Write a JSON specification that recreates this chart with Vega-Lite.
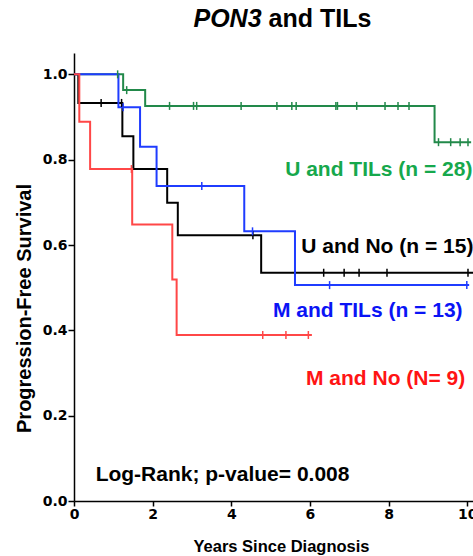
{
  "$schema": "https://vega.github.io/schema/vega-lite/v6.json",
  "width": 405,
  "height": 448,
  "autosize": {"type": "none"},
  "padding": {"left": 74, "top": 53, "right": 0, "bottom": 55},
  "background": "white",
  "config": {"view": {"stroke": null}, "font": "Liberation Sans"},
  "datasets": {
    "km": [
      {"g": "U and TILs", "t": 0, "s": 1, "c": 0},
      {"g": "U and TILs", "t": 1.11, "s": 1, "c": 1},
      {"g": "U and TILs", "t": 1.25, "s": 0.963, "c": 0},
      {"g": "U and TILs", "t": 1.34, "s": 0.963, "c": 1},
      {"g": "U and TILs", "t": 1.81, "s": 0.926, "c": 0},
      {"g": "U and TILs", "t": 2.43, "s": 0.926, "c": 1},
      {"g": "U and TILs", "t": 3.04, "s": 0.926, "c": 1},
      {"g": "U and TILs", "t": 3.12, "s": 0.926, "c": 1},
      {"g": "U and TILs", "t": 4.25, "s": 0.926, "c": 1},
      {"g": "U and TILs", "t": 5.16, "s": 0.926, "c": 1},
      {"g": "U and TILs", "t": 5.54, "s": 0.926, "c": 1},
      {"g": "U and TILs", "t": 5.65, "s": 0.926, "c": 1},
      {"g": "U and TILs", "t": 6.66, "s": 0.926, "c": 1},
      {"g": "U and TILs", "t": 6.7, "s": 0.926, "c": 1},
      {"g": "U and TILs", "t": 7.19, "s": 0.926, "c": 1},
      {"g": "U and TILs", "t": 7.91, "s": 0.926, "c": 1},
      {"g": "U and TILs", "t": 8.24, "s": 0.926, "c": 1},
      {"g": "U and TILs", "t": 8.52, "s": 0.926, "c": 1},
      {"g": "U and TILs", "t": 9.17, "s": 0.841, "c": 0},
      {"g": "U and TILs", "t": 9.27, "s": 0.841, "c": 1},
      {"g": "U and TILs", "t": 9.58, "s": 0.841, "c": 1},
      {"g": "U and TILs", "t": 9.82, "s": 0.841, "c": 1},
      {"g": "U and TILs", "t": 10.02, "s": 0.841, "c": 1},
      {"g": "U and TILs", "t": 10.1, "s": 0.841, "c": 0},
      {"g": "U and No", "t": 0, "s": 1, "c": 0},
      {"g": "U and No", "t": 0.11, "s": 0.933, "c": 0},
      {"g": "U and No", "t": 0.69, "s": 0.933, "c": 1},
      {"g": "U and No", "t": 1.21, "s": 0.933, "c": 1},
      {"g": "U and No", "t": 1.23, "s": 0.855, "c": 0},
      {"g": "U and No", "t": 1.51, "s": 0.778, "c": 0},
      {"g": "U and No", "t": 2.37, "s": 0.699, "c": 0},
      {"g": "U and No", "t": 2.64, "s": 0.623, "c": 0},
      {"g": "U and No", "t": 4.55, "s": 0.623, "c": 1},
      {"g": "U and No", "t": 4.76, "s": 0.535, "c": 0},
      {"g": "U and No", "t": 6.35, "s": 0.535, "c": 1},
      {"g": "U and No", "t": 6.87, "s": 0.535, "c": 1},
      {"g": "U and No", "t": 7.25, "s": 0.535, "c": 1},
      {"g": "U and No", "t": 7.96, "s": 0.535, "c": 1},
      {"g": "U and No", "t": 10.02, "s": 0.535, "c": 1},
      {"g": "U and No", "t": 10.25, "s": 0.535, "c": 0},
      {"g": "M and TILs", "t": 0, "s": 1, "c": 0},
      {"g": "M and TILs", "t": 1.13, "s": 0.923, "c": 0},
      {"g": "M and TILs", "t": 1.25, "s": 0.923, "c": 1},
      {"g": "M and TILs", "t": 1.68, "s": 0.83, "c": 0},
      {"g": "M and TILs", "t": 2.1, "s": 0.738, "c": 0},
      {"g": "M and TILs", "t": 3.25, "s": 0.738, "c": 1},
      {"g": "M and TILs", "t": 4.33, "s": 0.632, "c": 0},
      {"g": "M and TILs", "t": 4.54, "s": 0.632, "c": 1},
      {"g": "M and TILs", "t": 5.62, "s": 0.506, "c": 0},
      {"g": "M and TILs", "t": 6.5, "s": 0.506, "c": 1},
      {"g": "M and TILs", "t": 9.99, "s": 0.506, "c": 1},
      {"g": "M and TILs", "t": 10.05, "s": 0.506, "c": 0},
      {"g": "M and No", "t": 0, "s": 1, "c": 0},
      {"g": "M and No", "t": 0.135, "s": 0.889, "c": 0},
      {"g": "M and No", "t": 0.41, "s": 0.778, "c": 0},
      {"g": "M and No", "t": 1.46, "s": 0.778, "c": 1},
      {"g": "M and No", "t": 1.48, "s": 0.648, "c": 0},
      {"g": "M and No", "t": 2.5, "s": 0.519, "c": 0},
      {"g": "M and No", "t": 2.61, "s": 0.389, "c": 0},
      {"g": "M and No", "t": 4.8, "s": 0.389, "c": 1},
      {"g": "M and No", "t": 5.39, "s": 0.389, "c": 1},
      {"g": "M and No", "t": 5.96, "s": 0.389, "c": 1},
      {"g": "M and No", "t": 6.05, "s": 0.389, "c": 0}
    ],
    "labels": [
      {"g": "U and TILs", "lab": "U and TILs (n = 28)", "x": 5.37, "y": 0.761},
      {"g": "U and No", "lab": "U and No (n = 15)", "x": 5.78, "y": 0.581},
      {"g": "M and TILs", "lab": "M and TILs (n = 13)", "x": 5.06, "y": 0.432},
      {"g": "M and No", "lab": "M and No (N= 9)", "x": 5.9, "y": 0.273},
      {"g": "U and No", "lab": "Log-Rank; p-value= 0.008", "x": 0.55, "y": 0.048}
    ],
    "titles": [
      {"part": "gene", "lab": "PON3", "x": 4.77, "y": 1.111},
      {"part": "rest", "lab": "and TILs", "x": 4.77, "y": 1.111}
    ]
  },
  "layer": [
    {
      "data": {"name": "km"},
      "mark": {"type": "line", "interpolate": "step-after", "strokeWidth": 2, "clip": false},
      "encoding": {
        "x": {
          "field": "t", "type": "quantitative",
          "scale": {"domain": [0, 10.3], "nice": false, "zero": false},
          "axis": {
            "values": [0, 2, 4, 6, 8, 10], "grid": false,
            "title": "Years Since Diagnosis",
            "domainColor": "black", "domainWidth": 1.5,
            "tickColor": "black", "tickWidth": 1.5, "tickSize": 5,
            "labelFont": "DejaVu Sans", "labelFontWeight": "bold", "labelFontSize": 14,
            "labelColor": "black", "labelPadding": 1, "labelFlush": false,
            "titleFont": "Liberation Sans", "titleFontSize": 16.5, "titleFontWeight": "bold",
            "titleColor": "black", "titleX": 207, "titleY": 50, "titleAlign": "center",
            "titleBaseline": "alphabetic"
          }
        },
        "y": {
          "field": "s", "type": "quantitative",
          "scale": {"domain": [0, 1.05], "nice": false},
          "axis": {
            "values": [0, 0.2, 0.4, 0.6, 0.8, 1.0], "format": ".1f", "grid": false,
            "title": "Progression-Free Survival",
            "domainColor": "black", "domainWidth": 1.5,
            "tickColor": "black", "tickWidth": 1.5, "tickSize": 6,
            "labelFont": "DejaVu Sans", "labelFontWeight": "bold", "labelFontSize": 14,
            "labelColor": "black", "labelPadding": 1, "labelFlush": false,
            "titleFont": "Liberation Sans", "titleFontSize": 20, "titleFontWeight": "bold",
            "titleColor": "black", "titleX": -44, "titleY": 255, "titleAngle": -90,
            "titleAlign": "center", "titleBaseline": "alphabetic"
          }
        },
        "color": {
          "field": "g", "type": "nominal",
          "scale": {"domain": ["U and TILs", "U and No", "M and TILs", "M and No"], "range": ["#22894a", "#000000", "#1f3cff", "#ff4747"]},
          "legend": null
        }
      }
    },
    {
      "data": {"name": "km"},
      "transform": [{"filter": "datum.c == 1"}],
      "mark": {"type": "tick", "orient": "vertical", "size": 8, "thickness": 1.5, "opacity": 1},
      "encoding": {
        "x": {"field": "t", "type": "quantitative"},
        "y": {"field": "s", "type": "quantitative"},
        "color": {
          "field": "g", "type": "nominal",
          "scale": {"domain": ["U and TILs", "U and No", "M and TILs", "M and No"], "range": ["#22894a", "#000000", "#1f3cff", "#ff4747"]},
          "legend": null
        }
      }
    },
    {
      "data": {"name": "labels"},
      "mark": {"type": "text", "align": "left", "baseline": "alphabetic", "fontSize": 21, "fontWeight": "bold", "font": "Liberation Sans", "clip": false},
      "encoding": {
        "x": {"field": "x", "type": "quantitative"},
        "y": {"field": "y", "type": "quantitative"},
        "text": {"field": "lab"},
        "color": {
          "field": "g", "type": "nominal",
          "scale": {"domain": ["U and TILs", "U and No", "M and TILs", "M and No"], "range": ["#16a84c", "#000000", "#0a14f5", "#ff1414"]},
          "legend": null
        }
      }
    },
    {
      "data": {"name": "titles"},
      "transform": [{"filter": "datum.part == 'gene'"}],
      "mark": {"type": "text", "align": "right", "baseline": "alphabetic", "fontSize": 25, "fontWeight": "bold", "fontStyle": "italic", "font": "Liberation Sans", "color": "black"},
      "encoding": {
        "x": {"field": "x", "type": "quantitative"},
        "y": {"field": "y", "type": "quantitative"},
        "text": {"field": "lab"}
      }
    },
    {
      "data": {"name": "titles"},
      "transform": [{"filter": "datum.part == 'rest'"}],
      "mark": {"type": "text", "align": "left", "baseline": "alphabetic", "dx": 7, "fontSize": 25, "fontWeight": "bold", "font": "Liberation Sans", "color": "black"},
      "encoding": {
        "x": {"field": "x", "type": "quantitative"},
        "y": {"field": "y", "type": "quantitative"},
        "text": {"field": "lab"}
      }
    }
  ],
  "resolve": {"scale": {"color": "independent"}}
}
